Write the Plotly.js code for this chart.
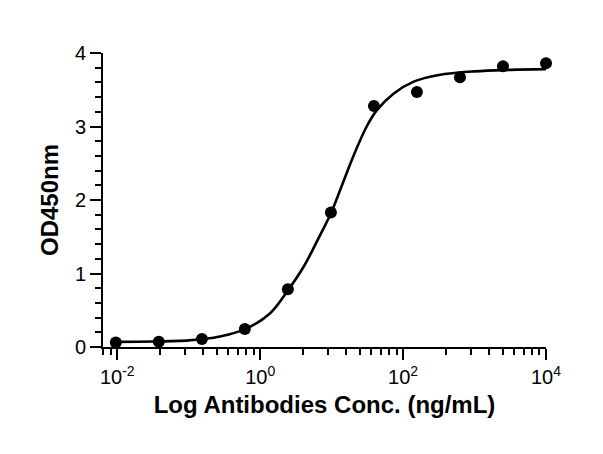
<!DOCTYPE html>
<html>
<head>
<meta charset="utf-8">
<script src="https://cdn.plot.ly/plotly-3.0.1.min.js"></script>
<style>html,body{margin:0;padding:0;background:#fff;}#chart{width:603px;height:454px;}</style>
</head>
<body>
<div id="chart"></div>
<script>
// Measured points (concentration in ng/mL, OD450)
var conc = [0.00954, 0.0381, 0.153, 0.610, 2.44, 9.77, 39.1, 156, 625, 2500, 10000];
var od = [0.062, 0.072, 0.108, 0.244, 0.787, 1.83, 3.28, 3.47, 3.67, 3.82, 3.86];

// Fitted curve
var curveConc = [0.00955, 0.0316, 0.1, 0.158, 0.275, 0.617, 1.38, 2.51, 4.07, 6.92, 9.77, 13.2, 20.0, 30.9, 42.7, 74.1, 141, 316, 1000, 3162, 10000];
var curveOd = [0.07, 0.075, 0.09, 0.108, 0.144, 0.244, 0.46, 0.787, 1.095, 1.525, 1.82, 2.14, 2.59, 3.0, 3.22, 3.45, 3.61, 3.70, 3.75, 3.77, 3.78];

// Axis ticks
var xTickVals = [0.01, 1, 100, 10000];
var xTickText = ['10<sup>-2</sup>', '10<sup>0</sup>', '10<sup>2</sup>', '10<sup>4</sup>'];
var xMinorVals = [0.0064, 0.0081, 0.04, 0.09, 0.16, 0.25, 0.36, 0.49, 0.64, 0.81,
                  4, 9, 16, 25, 36, 49, 64, 81, 400, 900, 1600, 2500, 3600, 4900, 6400, 8100];
var yTickVals = [0, 1, 2, 3, 4];

var font = 'Liberation Sans, Arial, Helvetica, sans-serif';

var traces = [
  {
    x: curveConc, y: curveOd, type: 'scatter', mode: 'lines',
    line: {color: '#000', width: 2.6, shape: 'spline', smoothing: 1},
    hoverinfo: 'skip', showlegend: false, cliponaxis: false
  },
  {
    x: conc, y: od, type: 'scatter', mode: 'markers',
    marker: {color: '#000', size: 12},
    showlegend: false, cliponaxis: false
  }
];

var layout = {
  width: 603, height: 454,
  margin: {l: 103, r: 57, t: 53, b: 107},
  paper_bgcolor: '#fff', plot_bgcolor: '#fff',
  font: {family: font, color: '#000', size: 20},
  showlegend: false,
  xaxis: {
    type: 'log', range: [-2.2, 4],
    tickmode: 'array', tickvals: xTickVals, ticktext: xTickText,
    ticks: 'outside', ticklen: 11, tickwidth: 2, tickcolor: '#000',
    showline: true, linewidth: 2, linecolor: '#000',
    showgrid: false, zeroline: false,
    tickfont: {size: 20, family: font, color: '#000'},
    minor: {tickmode: 'array', tickvals: xMinorVals, ticks: 'outside', ticklen: 6, tickwidth: 2, tickcolor: '#000', showgrid: false},
    title: {text: '<b>Log Antibodies Conc. (ng/mL)</b>', font: {size: 24, family: font, color: '#000'}, standoff: 9}
  },
  yaxis: {
    range: [0, 4],
    tickmode: 'array', tickvals: yTickVals,
    ticks: 'outside', ticklen: 11, tickwidth: 2, tickcolor: '#000',
    showline: true, linewidth: 2, linecolor: '#000',
    showgrid: false, zeroline: false,
    tickfont: {size: 20, family: font, color: '#000'},
    minor: {dtick: 0.2, ticks: 'outside', ticklen: 6, tickwidth: 2, tickcolor: '#000', showgrid: false},
    title: {text: '<b>OD450nm</b>', font: {size: 24, family: font, color: '#000'}, standoff: 9}
  }
};

Plotly.newPlot('chart', traces, layout, {staticPlot: true, displayModeBar: false});
</script>
</body>
</html>
